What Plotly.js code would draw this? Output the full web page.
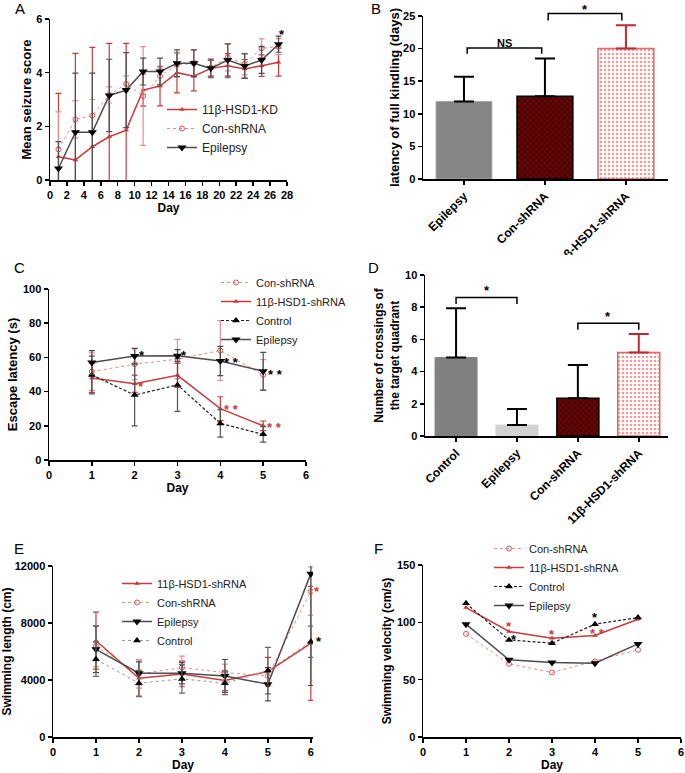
<!DOCTYPE html>
<html><head><meta charset="utf-8">
<script src="https://cdn.plot.ly/plotly-3.0.1.min.js"></script>
<style>html,body{margin:0;padding:0;background:#fff}#chart{width:685px;height:773px}</style>
</head><body><div id="chart"></div>
<script>
// ---------- Panel A: mean seizure score ----------
const aDays = [1,3,5,7,9,11,13,15,17,19,21,23,25,27];
const aKD = [0.87,0.75,1.24,1.61,1.86,3.35,3.5,4.0,3.87,4.16,4.26,4.14,4.26,4.39];
const aKDErr = [2.36,3.97,3.7,3.48,3.23,0.6,0.74,0.75,0.55,0.3,0.45,0.35,0.4,0.52];
const aCon = [1.14,2.26,2.4,3.17,3.58,3.13,3.87,4.29,4.35,4.19,4.57,4.32,4.91,4.97];
const aConErr = [1.4,0.7,0.6,0.3,0.3,1.84,0.3,0.45,0.5,0.3,0.5,0.4,0.35,0.3];
const aEpi = [0.43,1.78,1.78,3.15,3.35,4.04,4.04,4.35,4.35,4.16,4.47,4.25,4.47,5.06];
const aEpiErr = [1.0,2.2,2.2,1.35,1.4,0.5,0.5,0.5,0.5,0.35,0.6,0.45,0.5,0.3];

// ---------- Panel B: latency of full kindling ----------
const bCats = ["Epilepsy","Con-shRNA","11β-HSD1-shRNA"];
const bMeans = [11.9,12.7,20.0];
const bErr = [3.8,5.8,3.6];

// ---------- Panel C: escape latency ----------
const cDays = [1,2,3,4,5];
const cCon = [51.7,56,59,64,49.7];
const cConErr = [11,9,11.5,17.5,9];
const cKD = [48,44.6,49.5,30,20];
const cKDErr = [8.5,5,7,7,2.8];
const cCtrl = [49.7,38,43.9,21.4,15];
const cCtrlErr = [11,18,15.5,8,4.5];
const cEpi = [57,60.8,61,57.9,51.9];
const cEpiErr = [7,4.5,3.5,8.5,11];

// ---------- Panel D: crossings of target quadrant ----------
const dCats = ["Control","Epilepsy","Con-shRNA","11β-HSD1-shRNA"];
const dMeans = [4.87,0.68,2.34,5.18];
const dErr = [3.06,1.0,2.07,1.16];

// ---------- Panel E: swimming length ----------
const eDays = [1,2,3,4,5,6];
const eKD = [6757,4124,4427,3961,4590,6571];
const eKDErr = [2000,1300,900,700,1000,4000];
const eCon = [6384,4427,4870,4520,4287,10229];
const eConErr = [1440,1000,800,600,600,1700];
const eEpi = [6151,4474,4474,4287,3705,11464];
const eEpiErr = [1630,800,750,1150,1165,7850];
const eCtrl = [5452,3775,4078,3775,4660,6687];
const eCtrlErr = [1200,900,1000,800,1630,1100];

// ---------- Panel F: swimming velocity ----------
const fDays = [1,2,3,4,5];
const fCon = [89.9,63.8,56.3,65.9,76];
const fKD = [112.9,92,86.2,88.5,102.7];
const fCtrl = [116.6,84.7,81.8,98.4,104.2];
const fEpi = [98.4,67.3,65,64.4,81.2];

// ---------- layout geometry ----------
const W = 685, H = 773;
const FONT = "Liberation Sans, Arial, sans-serif";
const P = {
  A:{x:[50,287], y:[19,180], xr:[0,28], yr:[0,6], xa:'x', ya:'y'},
  B:{x:[423,668], y:[16,179], xr:[-0.506,2.52], yr:[0,25], xa:'x2', ya:'y2'},
  C:{x:[49,306], y:[289,460], xr:[0,6], yr:[0,100], xa:'x3', ya:'y3'},
  D:{x:[425,668], y:[275,436], xr:[-0.51,3.48], yr:[0,10], xa:'x4', ya:'y4'},
  E:{x:[53,313], y:[566,737], xr:[0,6.05], yr:[0,12000], xa:'x5', ya:'y5'},
  F:{x:[423,681], y:[565,737], xr:[0,6], yr:[0,150], xa:'x6', ya:'y6'}
};
function toPaper(p, x, y) {
  const X = p.x[0] + (x - p.xr[0]) / (p.xr[1] - p.xr[0]) * (p.x[1] - p.x[0]);
  const Y = p.y[1] - (y - p.yr[0]) / (p.yr[1] - p.yr[0]) * (p.y[1] - p.y[0]);
  return [X / W, 1 - Y / H];
}
function axis(p, dim, extra) {
  const a = {
    domain: dim === 'x' ? [p.x[0]/W, p.x[1]/W] : [1 - p.y[1]/H, 1 - p.y[0]/H],
    range: dim === 'x' ? p.xr : p.yr,
    anchor: dim === 'x' ? p.ya : p.xa,
    showline: true, linecolor: '#000', linewidth: 1.5,
    ticks: 'outside', ticklen: 4, tickwidth: 1.5, tickcolor: '#000',
    showgrid: false, zeroline: false, fixedrange: true,
    tickfont: {family: FONT, size: 11, weight: 'bold', color: '#000'}
  };
  return Object.assign(a, extra || {});
}
function ttl(text, standoff, size) {
  return {text: text, font: {family: FONT, size: size || 12, weight: 'bold', color: '#000'}, standoff: standoff};
}

const ST = {
  kd:   {line:{color:'#c83c3c', width:1.5}, marker:{symbol:'triangle-up', size:5, color:'#c83c3c'}, err:'#c83c3c'},
  con:  {line:{color:'#e68a8a', width:1, dash:'dot'}, marker:{symbol:'circle-open', size:5, color:'#d65555', line:{width:1}}, err:'#e29090'},
  epi:  {line:{color:'#4d4d4d', width:1.5}, marker:{symbol:'triangle-down', size:8, color:'#000'}, err:'#4d4d4d'},
  ctrl: {line:{color:'#222', width:1.2, dash:'3px,2px'}, marker:{symbol:'triangle-up', size:7, color:'#000'}, err:'#555'}
};

const traces = [];
function addLine(p, name, xs, ys, errs, st, legend) {
  const t = {
    type:'scatter', mode:'lines+markers', name:name, x:xs, y:ys,
    xaxis:p.xa, yaxis:p.ya, legend:legend,
    line: Object.assign({}, st.line), marker: Object.assign({}, st.marker)
  };
  if (errs) t.error_y = {type:'data', array:errs, visible:true, color:st.err, thickness:1.2, width:3};
  traces.push(t);
}

// Panel A
addLine(P.A, '11β-HSD1-KD', aDays, aKD, aKDErr, ST.kd, 'legend');
addLine(P.A, 'Con-shRNA', aDays, aCon, aConErr, ST.con, 'legend');
addLine(P.A, 'Epilepsy', aDays, aEpi, aEpiErr, ST.epi, 'legend');

// Panel C
addLine(P.C, 'Con-shRNA', cDays, cCon, cConErr, ST.con, 'legend2');
addLine(P.C, '11β-HSD1-shRNA', cDays, cKD, cKDErr, ST.kd, 'legend2');
addLine(P.C, 'Control', cDays, cCtrl, cCtrlErr, ST.ctrl, 'legend2');
addLine(P.C, 'Epilepsy', cDays, cEpi, cEpiErr, ST.epi, 'legend2');

// Panel E
const ctrlE = {line:{color:'#9a9a9a', width:1, dash:'dot'}, marker:{symbol:'triangle-up', size:7, color:'#000'}, err:'#666'};
addLine(P.E, '11β-HSD1-shRNA', eDays, eKD, eKDErr, ST.kd, 'legend3');
addLine(P.E, 'Con-shRNA', eDays, eCon, eConErr, ST.con, 'legend3');
addLine(P.E, 'Epilepsy', eDays, eEpi, eEpiErr, ST.epi, 'legend3');
addLine(P.E, 'Control', eDays, eCtrl, eCtrlErr, ctrlE, 'legend3');

// Panel F
addLine(P.F, 'Con-shRNA', fDays, fCon, null, ST.con, 'legend4');
addLine(P.F, '11β-HSD1-shRNA', fDays, fKD, null, ST.kd, 'legend4');
addLine(P.F, 'Control', fDays, fCtrl, null, ST.ctrl, 'legend4');
addLine(P.F, 'Epilepsy', fDays, fEpi, null, ST.epi, 'legend4');

// Bar styles by group name
const barStyle = {
  'Control': {marker:{color:'#808080', line:{color:'#808080', width:1}}, err:'#000'},
  'Epilepsy': {marker:{color:'#d2d2d2', line:{color:'#d2d2d2', width:1}}, err:'#000'},
  'Con-shRNA': {marker:{color:'#6a0505', line:{color:'#000', width:1.5},
                pattern:{shape:'x', bgcolor:'#6a0505', fgcolor:'#2a0000', size:4, solidity:0.35}}, err:'#000'},
  '11β-HSD1-shRNA': {marker:{color:'#ffffff', line:{color:'#e06a6a', width:1.5},
                pattern:{shape:'.', bgcolor:'#ffffff', fgcolor:'#f09a9a', size:4, solidity:0.35}}, err:'#c0282d'}
};
function addBars(p, cats, means, errs, overrides) {
  cats.forEach(function(c, i) {
    const s = (overrides && overrides[c]) || barStyle[c];
    traces.push({
      type:'bar', x:[i], y:[means[i]], width:0.69, xaxis:p.xa, yaxis:p.ya, showlegend:false,
      marker: JSON.parse(JSON.stringify(s.marker)),
      error_y: {type:'data', symmetric:false, array:[errs[i]], arrayminus:[0], color:s.err, thickness:2, width:10}
    });
  });
}
addBars(P.B, bCats, bMeans, bErr, {'Epilepsy': {marker:{color:'#858585', line:{color:'#a8a8a8', width:1}}, err:'#000'}});
addBars(P.D, dCats, dMeans, dErr);

// brackets & stars
const shapes = [];
const annotations = [];
function bracket(p, x0, x1, yTop, yEnd, color) {
  const a = toPaper(p, x0, yEnd), b = toPaper(p, x0, yTop), c = toPaper(p, x1, yTop), d = toPaper(p, x1, yEnd);
  shapes.push({type:'path', xref:'paper', yref:'paper', layer:'above',
    path:'M'+a[0]+','+a[1]+' L'+b[0]+','+b[1]+' L'+c[0]+','+c[1]+' L'+d[0]+','+d[1],
    line:{color:color||'#000', width:1.5}});
}
function mark(p, x, y, text, color, size) {
  const q = toPaper(p, x, y);
  annotations.push({xref:'paper', yref:'paper', x:q[0], y:q[1], text:text, showarrow:false,
    xanchor:'center', yanchor:'middle', yshift:-3,
    font:{family:FONT, size:size||13, color:color||'#000', weight:'bold'}});
}
bracket(P.B, 0.04, 0.96, 20.1, 19.2);
mark(P.B, 0.5, 21.3, 'NS', '#000', 11);
bracket(P.B, 1.04, 1.95, 25.4, 24.3);
mark(P.B, 1.5, 26.4, '*');
bracket(P.D, 0.0, 1.0, 8.6, 8.2);
mark(P.D, 0.5, 9.2, '*');
bracket(P.D, 2.0, 3.0, 7.0, 6.6);
mark(P.D, 2.5, 7.6, '*');

mark(P.A, 27.45, 5.55, '*');
mark(P.C, 2.16, 63, '*'); mark(P.C, 3.16, 63, '*');
mark(P.C, 4.27, 59, '* *'); mark(P.C, 5.29, 52, '* *');
mark(P.C, 2.14, 45, '*', '#c83c3c'); mark(P.C, 4.27, 31, '* *', '#c83c3c'); mark(P.C, 5.27, 20.5, '* *', '#c83c3c');
mark(P.E, 6.15, 10400, '*', '#c83c3c'); mark(P.E, 6.18, 6900, '*');
mark(P.F, 2.0, 99, '*', '#c83c3c'); mark(P.F, 2.12, 87.5, '*');
mark(P.F, 3.01, 92, '*', '#c83c3c'); mark(P.F, 4.01, 107, '*'); mark(P.F, 4.06, 93, '* *', '#c83c3c');

// panel letters
[['A',13,8],['B',369,8],['C',12,268],['D',366,268],['E',12,548],['F',372,548]].forEach(function(l){
  annotations.push({xref:'paper', yref:'paper', x:l[1]/W, y:1-l[2]/H, text:l[0], showarrow:false,
    xanchor:'left', yanchor:'middle', font:{family:FONT, size:15, color:'#000'}});
});

// the reference's panel B tick label runs under panel D's picture edge: white strip masks it
shapes.push({type:'rect', xref:'paper', yref:'paper', layer:'above',
  x0:470/W, x1:640/W, y0:1-268/H, y1:1-255/H, fillcolor:'#fff', line:{width:0}});

function leg(x, y, size) {
  return {x:x/W, y:1-y/H, xanchor:'left', yanchor:'top', bgcolor:'rgba(0,0,0,0)',
    font:{family:FONT, size:size, color:'#222'}, itemwidth:30, tracegroupgap:0};
}

const layout = {
  width:W, height:H, margin:{l:0,r:0,t:0,b:0}, paper_bgcolor:'#fff', plot_bgcolor:'rgba(0,0,0,0)',
  showlegend:true, barmode:'overlay', font:{family:FONT},
  xaxis: axis(P.A,'x',{dtick:2, title:ttl('Day', 2)}),
  yaxis: axis(P.A,'y',{dtick:2, title:ttl('Mean seizure score', 1, 13)}),
  xaxis2: axis(P.B,'x',{tickvals:[0,1,2], ticktext:bCats, tickangle:-45,
    tickfont:{family:FONT, size:12, weight:'bold', color:'#000'}}),
  yaxis2: axis(P.B,'y',{dtick:5, title:ttl('latency of full kindling (days)', 0, 13)}),
  xaxis3: axis(P.C,'x',{dtick:1, title:ttl('Day', 2)}),
  yaxis3: axis(P.C,'y',{dtick:20, title:ttl('Escape latency (s)', 2, 13)}),
  xaxis4: axis(P.D,'x',{tickvals:[0,1,2,3], ticktext:dCats, tickangle:-45,
    tickfont:{family:FONT, size:12, weight:'bold', color:'#000'}}),
  yaxis4: axis(P.D,'y',{dtick:2, title:ttl('Number of crossings of<br>the target quadrant', 3)}),
  xaxis5: axis(P.E,'x',{dtick:1, title:ttl('Day', 2)}),
  yaxis5: axis(P.E,'y',{tickvals:[0,4000,8000,12000], tickformat:'d', title:ttl('Swimming length (cm)', 2)}),
  xaxis6: axis(P.F,'x',{dtick:1, title:ttl('Day', 2)}),
  yaxis6: axis(P.F,'y',{dtick:50, title:ttl('Swimming velocity (cm/s)', 2)}),
  legend: leg(162, 95, 12),
  legend2: leg(216, 268, 11),
  legend3: leg(117, 569, 11),
  legend4: leg(489, 534, 11),
  shapes: shapes,
  annotations: annotations
};

Plotly.newPlot('chart', traces, layout, {displayModeBar:false, staticPlot:true});
</script>
</body></html>
